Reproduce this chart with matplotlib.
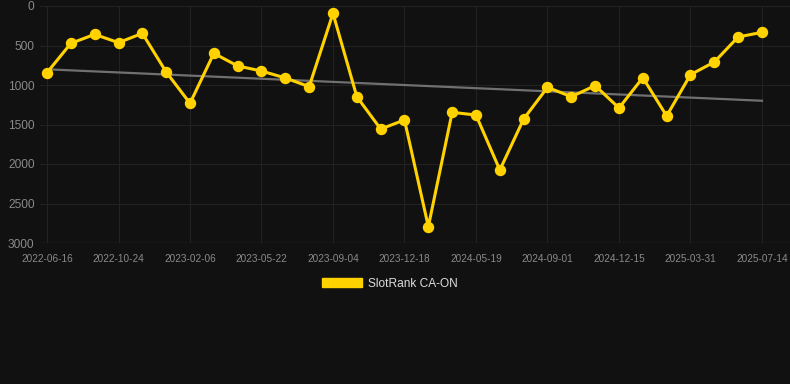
import matplotlib
matplotlib.use("Agg")
import matplotlib.pyplot as plt
from matplotlib.patches import Patch
import numpy as np

plt.rcParams["font.family"] = ["Liberation Sans", "DejaVu Sans"]

# Rank values (lower is better; axis inverted)
ranks = [844, 473, 359, 464, 346, 835, 1232, 599, 759, 823, 911, 1021, 93, 1148, 1557,
         1443, 2793, 1346, 1380, 2076, 1430, 1030, 1148, 1008, 1291, 907, 1392, 869, 709, 392, 333]
tick_labels = ["2022-06-16", "2022-10-24", "2023-02-06", "2023-05-22", "2023-09-04",
               "2023-12-18", "2024-05-19", "2024-09-01", "2024-12-15", "2025-03-31", "2025-07-14"]
y_ticks = [0, 500, 1000, 1500, 2000, 2500, 3000]
series_name = "SlotRank CA-ON"

BG = "#111111"
YEL = "#ffd200"
GRID = "#222222"
TXT = "#8a8a8a"

fig = plt.figure(figsize=(7.9, 3.84), dpi=100, facecolor=BG)
W, H = 790, 384
left, right, top, bottom = 40, 790, 6, 243
ax = fig.add_axes([left / W, 1 - bottom / H, (right - left) / W, (bottom - top) / H])
ax.set_facecolor(BG)

x = np.arange(len(ranks))
y = np.array(ranks, dtype=float)

# trend line (linear regression)
k, b = np.polyfit(x, y, 1)
ax.plot([x[0], x[-1]], [k * x[0] + b, k * x[-1] + b], color="#707070", lw=1.6, zorder=2)

ax.plot(x, y, color=YEL, lw=2.2, marker="o", markersize=7.2, markerfacecolor=YEL,
        markeredgecolor=YEL, zorder=3)

px = 23.83
ax.set_xlim(-7 / px, 30 + 28 / px)
ax.set_ylim(3000, 0)
ax.set_yticks(y_ticks)
ax.set_yticklabels([str(v) for v in y_ticks])
tick_pos = list(range(0, len(ranks), 3))
ax.set_xticks(tick_pos)
ax.set_xticklabels(tick_labels)

ax.grid(True, color=GRID, lw=0.8)
ax.set_axisbelow(True)
for s in ax.spines.values():
    s.set_visible(False)
ax.axhline(3000, color="#2c2c2c", lw=1, zorder=1)
ax.tick_params(axis="both", length=0, colors=TXT)
ax.tick_params(axis="y", labelsize=8.6, pad=4)
ax.tick_params(axis="x", labelsize=7.2, pad=8)

fig.legend(handles=[Patch(facecolor=YEL, edgecolor=YEL)], labels=[series_name],
           loc="center", bbox_to_anchor=(390 / W, 1 - 284 / H), frameon=False,
           fontsize=8.6, labelcolor="#dddddd", handlelength=3.3, handleheight=0.8,
           handletextpad=0.5)

fig.savefig("out.png", dpi=100, facecolor=BG)
